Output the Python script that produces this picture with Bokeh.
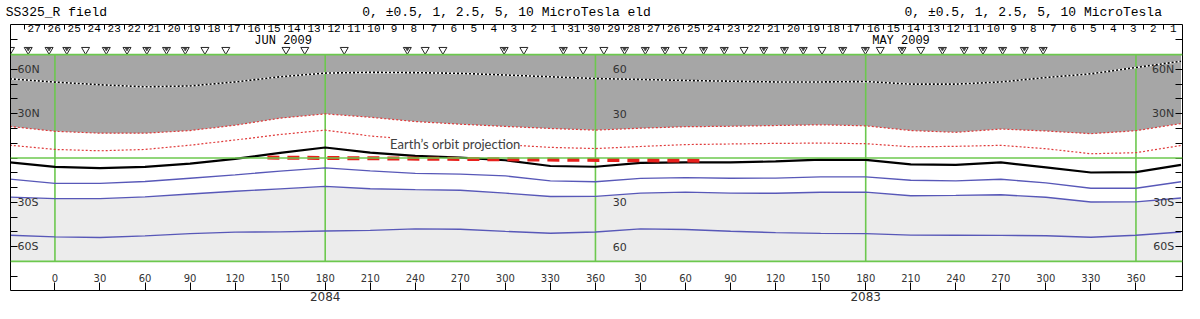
from bokeh.plotting import figure
from bokeh.models import LinearAxis, FixedTicker, Span, Range1d
from bokeh.core.properties import value
from bokeh.embed import file_html
from bokeh.resources import INLINE

# ---------------- data ----------------
lon = [-30, 0, 30, 60, 90, 120, 150, 180, 210, 240, 270, 300, 330, 360,
       390, 420, 450, 480, 510, 540, 570, 600, 630, 660, 690, 720, 750]
pos_high = [53.6, 51.4, 49.6, 48.2, 48.8, 51.5, 55.0, 57.5, 58.0, 57.8, 57.3, 56.2, 55.0, 53.8,
            53.2, 52.5, 52.0, 51.5, 51.5, 51.8, 50.0, 50.0, 51.5, 54.5, 57.0, 61.3, 65.5]
pos_mid = [21.4, 18.1, 16.8, 16.8, 18.6, 22.2, 27.0, 29.9, 27.6, 24.7, 22.9, 21.4, 20.0, 18.9,
           20.2, 21.2, 21.5, 22.0, 22.5, 21.8, 18.6, 17.4, 19.6, 18.3, 16.5, 18.5, 23.3]
pos_low = [8.7, 5.8, 4.9, 5.8, 8.7, 12.2, 15.9, 18.9, 14.9, 12.5, 10.8, 9.0, 7.2, 6.4,
           7.8, 9.1, 9.5, 9.9, 10.1, 9.7, 7.6, 7.9, 8.6, 6.3, 2.9, 3.6, 8.5]
neutral = [-3.0, -6.0, -6.9, -6.0, -3.8, -0.6, 3.5, 7.1, 3.6, 1.4, 0.2, -1.5, -5.4, -5.9,
           -3.3, -3.0, -3.0, -2.3, -1.1, -1.2, -4.3, -4.6, -3.0, -6.3, -9.8, -9.6, -4.6]
neg1 = [-14.3, -17.2, -17.2, -15.9, -13.7, -11.4, -8.9, -6.7, -8.7, -10.4, -10.9, -12.1, -15.5, -16.1,
        -13.8, -13.3, -13.7, -13.6, -12.8, -12.8, -15.1, -15.5, -14.4, -16.8, -20.5, -20.5, -16.1]
neg2 = [-26.5, -27.5, -27.5, -26.3, -24.4, -22.5, -20.9, -19.2, -20.8, -21.4, -21.8, -23.8, -26.1, -26.0,
        -23.8, -23.1, -23.8, -23.9, -23.2, -23.1, -25.5, -25.3, -24.9, -26.6, -29.8, -29.7, -27.1]
neg3 = [-52.3, -53.4, -53.8, -52.7, -51.2, -50.2, -50.0, -49.4, -49.0, -48.0, -48.2, -49.7, -50.9, -50.1,
        -48.0, -48.4, -49.6, -50.5, -51.0, -51.2, -52.2, -52.3, -52.4, -52.6, -53.6, -52.3, -50.1]

orbit_lon = [141.5, 430.4]
orbit_lat = [0.3, -1.8]
orbit_label = "Earth\u2019s orbit projection"
orbit_label_lon = [266.6]
orbit_label_lat = [9.7]

obs_v_lon = [-29.6, 20.4, 99.9, 113.8, 153.9, 166.4, 192.7, 246.6, 258.4, 312.3, 351.8,
             365.6, 418.2, 459.0, 510.9, 549.7, 576.7]
obs_w_lon = [-17.8, -3.9, 7.9, 34.2, 48.0, 61.2, 74.3, 86.8, 234.7, 299.2, 338.6, 379.4,
             393.2, 406.4, 432.0, 445.8, 472.1, 485.9, 498.4, 524.7, 539.8, 564.2, 591.1,
             605.6, 618.1, 631.2, 645.7, 658.2]

lon_ticks = list(range(0, 721, 30))
lon_tick_labels = [str(t if t <= 360 else t - 360) for t in lon_ticks]
rotation_ticks = [180, 540]
rotation_labels = ["2084", "2083"]
lat_ticks = list(range(-80, 81, 10))
lat_label_vals = [60, 30, -30, -60]
lat_labels_left = ["60N", "30N", "30S", "60S"]
lat_labels_mid = ["60", "30", "30", "60"]
grid_lon = [0, 180, 360, 540, 720]
grid_lat = [70, 0, -70]

days = list(range(27, 0, -1)) + list(range(31, 0, -1))
day0_lon = -13.8
deg_per_day = 13.31
month_labels = ["JUN 2009", "MAY 2009"]
month_lon = [152.0, 563.5]
title_lon = [1.0, 300.8, 651.6]
title_texts = ["SS325_R field",
               "0, \u00b10.5, 1, 2.5, 5, 10 MicroTesla eld",
               "0, \u00b10.5, 1, 2.5, 5, 10 MicroTesla"]

day_lon = [day0_lon + i * deg_per_day for i in range(len(days))]
day_edges = [day0_lon + (i - 0.5) * deg_per_day for i in range(len(days) + 1)]

# ---------------- figure ----------------
p = figure(width=1184, height=303, x_range=Range1d(-29.6, 751), y_range=Range1d(-89.7, 90.4),
           x_axis_type=None, y_axis_type=None, output_backend="svg", toolbar_location=None,
           min_border_left=10, min_border_right=2, min_border_top=24, min_border_bottom=0)
p.outline_line_color = None
p.background_fill_color = "white"
p.border_fill_color = "white"

mono = "Liberation Mono"
sans = "DejaVu Sans"

for loc in ("left", "right"):
    ax = LinearAxis(ticker=FixedTicker(ticks=[], minor_ticks=lat_ticks),
                    major_tick_in=0, major_tick_out=0, minor_tick_in=7, minor_tick_out=0,
                    major_label_standoff=0, axis_line_color="black", minor_tick_line_color="black")
    p.add_layout(ax, loc)

below = LinearAxis(ticker=FixedTicker(ticks=rotation_ticks, minor_ticks=lon_ticks),
                   major_label_overrides={t: s for t, s in zip(rotation_ticks, rotation_labels)},
                   major_tick_in=8, major_tick_out=0, minor_tick_in=8, minor_tick_out=0,
                   major_label_standoff=1, major_label_text_font=sans,
                   major_label_text_font_size="12px", major_label_text_color="#333333",
                   axis_line_color="black", minor_tick_line_color="black")
p.add_layout(below, "below")

above = LinearAxis(ticker=FixedTicker(ticks=title_lon, minor_ticks=day_edges),
                   major_label_overrides={t: s for t, s in zip(title_lon, title_texts)},
                   major_tick_in=0, major_tick_out=0, minor_tick_in=5, minor_tick_out=0,
                   major_label_standoff=5, major_label_text_font=mono,
                   major_label_text_font_size="13px", major_label_text_color="black",
                   axis_line_color="black", minor_tick_line_color="black")
p.add_layout(above, "above")

# fills
p.varea(x=lon, y1=pos_mid, y2=[70] * len(lon), fill_color="#a6a6a6")
p.varea(x=lon, y1=[-70] * len(lon), y2=neg2, fill_color="#ececec")

# green grid
for g in grid_lat:
    p.add_layout(Span(location=g, dimension="width", line_color="#6cc84e", line_width=1.6))
p.segment(x0=grid_lon, y0=[-70] * len(grid_lon), x1=grid_lon, y1=[70] * len(grid_lon),
          line_color="#6cc84e", line_width=1.6)

# contours
p.line(lon, pos_high, line_color="white", line_width=1.6)
p.line(lon, pos_high, line_color="black", line_width=1.6, line_dash="2 2")
p.line(lon, pos_mid, line_color="#e03a3a", line_width=1.2, line_dash="2 2")
p.line(lon, pos_low, line_color="#e03a3a", line_width=1.2, line_dash="2 2")
p.line(lon, neg1, line_color="#5858b8", line_width=1.4)
p.line(lon, neg2, line_color="#5858b8", line_width=1.4)
p.line(lon, neg3, line_color="#5858b8", line_width=1.4)
p.line(lon, neutral, line_color="black", line_width=2.2)

# earth orbit
p.line(orbit_lon, orbit_lat, line_color="#e8201c", line_width=4, line_dash="12 8")
p.text(x=orbit_label_lon, y=orbit_label_lat, text=[orbit_label], text_align="center",
       text_baseline="middle", text_font=value("Lato"), text_font_size="13px",
       text_color="#404040", background_fill_color="white")

# latitude labels
p.text(x=[-25.0] * 4, y=lat_label_vals, text=lat_labels_left, text_align="left",
       text_baseline="middle", text_font=value(sans), text_font_size="11px", text_color="#333333")
p.text(x=[745.5] * 4, y=lat_label_vals, text=lat_labels_left, text_align="right",
       text_baseline="middle", text_font=value(sans), text_font_size="11px", text_color="#333333")
p.text(x=[371.5] * 4, y=lat_label_vals, text=lat_labels_mid, text_align="left",
       text_baseline="middle", text_font=value(sans), text_font_size="11px", text_color="#333333")

# longitude labels (inside bottom)
p.text(x=lon_ticks, y=[-81.2] * len(lon_ticks), text=lon_tick_labels, text_align="center",
       text_baseline="middle", text_font=value(sans), text_font_size="10px", text_color="#333333")

# day numbers and months (inside top)
p.text(x=day_lon, y=[87.4] * len(days), text=[str(d) for d in days], text_align="center",
       text_baseline="middle", text_font=value(mono), text_font_size="11px", text_color="black")
p.text(x=month_lon, y=[79.2] * 2, text=month_labels, text_align="center",
       text_baseline="middle", text_font=value(mono), text_font_size="12px", text_color="black")

# observation markers
p.scatter(x=obs_v_lon, y=[73.3] * len(obs_v_lon), marker="inverted_triangle", size=8,
          fill_color=None, line_color="#222222", line_width=1)
p.scatter(x=obs_w_lon, y=[73.3] * len(obs_w_lon), marker="inverted_triangle", size=8,
          fill_color=None, line_color="#222222", line_width=1)
p.scatter(x=obs_w_lon, y=[73.8] * len(obs_w_lon), marker="inverted_triangle", size=3.5,
          fill_color="#444444", line_color="#444444", line_width=0.8)

open("out.html", "w").write(file_html(p, INLINE))
